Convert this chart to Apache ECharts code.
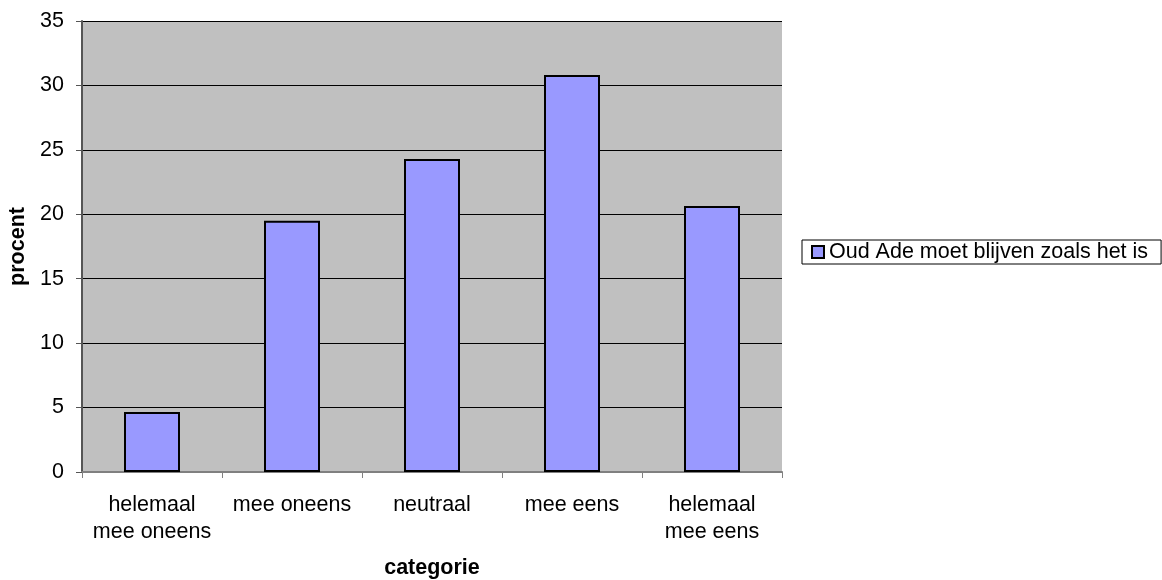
<!DOCTYPE html>
<html>
<head>
<meta charset="utf-8">
<script src="https://cdn.jsdelivr.net/npm/echarts@6/dist/echarts.min.js"></script>
<style>html,body{margin:0;padding:0;background:#fff}#c{width:1162px;height:580px}</style>
</head>
<body>
<div id="c"></div>
<script>
const categories = ['helemaal\nmee oneens', 'mee oneens', 'neutraal', 'mee eens', 'helemaal\nmee eens'];
const seriesName = 'Oud Ade moet blijven zoals het is';
const values = [4.65, 19.5, 24.3, 30.8, 20.65];
const yTicks = [0, 5, 10, 15, 20, 25, 30, 35];

const chart = echarts.init(document.getElementById('c'), null, {renderer: 'canvas'});
const font = 'Liberation Sans, Arial, sans-serif';
const fs = 21.5;
chart.setOption({
  animation: false,
  backgroundColor: '#fff',
  grid: {left: 82, top: 21, right: 380, bottom: 108, show: true, backgroundColor: '#C0C0C0', borderWidth: 0,
    containLabel: false, outerBoundsMode: 'none'},
  legend: {
    show: true,
    left: 802, top: 240,
    orient: 'vertical',
    data: [seriesName],
    icon: 'rect',
    itemWidth: 12, itemHeight: 12, itemGap: 4,
    padding: [1, 13, 1, 9],
    borderColor: '#000', borderWidth: 1,
    textStyle: {fontFamily: font, fontSize: fs, color: '#000'}
  },
  xAxis: {
    type: 'category',
    data: categories,
    name: 'categorie',
    nameLocation: 'middle',
    nameGap: 85,
    nameTextStyle: {fontFamily: font, fontSize: fs, fontWeight: 'bold', color: '#000'},
    axisLine: {lineStyle: {color: '#808080', width: 2}},
    axisTick: {show: true, alignWithLabel: false, length: 6, lineStyle: {color: '#808080'}},
    axisLabel: {fontFamily: font, fontSize: fs, color: '#000', margin: 20, lineHeight: 27, interval: 0}
  },
  yAxis: {
    type: 'value',
    min: 0, max: 35, interval: 5,
    name: 'procent',
    nameLocation: 'middle',
    nameGap: 53,
    nameRotate: 90,
    nameTextStyle: {fontFamily: font, fontSize: fs, fontWeight: 'bold', color: '#000'},
    axisLine: {show: true, lineStyle: {color: '#555', width: 2}},
    axisTick: {show: true, length: 6, lineStyle: {color: '#555'}},
    axisLabel: {fontFamily: font, fontSize: fs, color: '#000', margin: 18,
      formatter: v => yTicks.includes(v) ? String(v) : ''},
    splitLine: {show: true, lineStyle: {color: '#000', width: 1}}
  },
  series: [{
    name: seriesName,
    type: 'bar',
    data: values,
    barWidth: 56,
    itemStyle: {color: '#9999FF', borderColor: '#000', borderWidth: 2}
  }]
});
</script>
</body>
</html>
